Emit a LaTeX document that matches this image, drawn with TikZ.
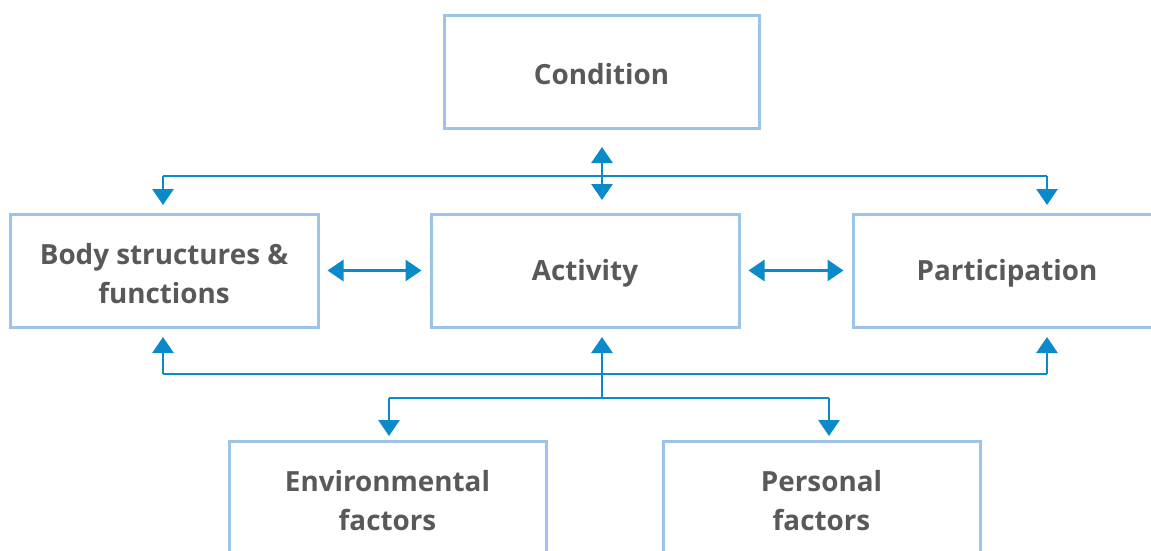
\documentclass[tikz,border=0pt]{standalone}
\usepackage{fontspec}
\setmainfont{Open Sans}
\usetikzlibrary{arrows.meta}
\definecolor{boxblue}{RGB}{157,195,230}
\definecolor{arrblue}{RGB}{10,138,200}
\definecolor{txtgray}{RGB}{88,89,91}
\begin{document}
\begin{tikzpicture}[x=1pt,y=1pt,
  box/.style={draw=boxblue,line width=3pt,minimum width=308pt,minimum height=113pt,inner sep=0pt},
  boxtext/.style={align=center,inner sep=0pt,yshift=-3pt,
    font=\fontsize{27.8}{39}\selectfont\bfseries,text=txtgray},
  link/.style={draw=arrblue,line width=2.9pt},
  onetip/.style={link,-{Triangle[width=21pt,length=16pt]}},
  twotip/.style={link,{Triangle[width=21pt,length=16pt]}-{Triangle[width=21pt,length=16pt]}}]
\useasboundingbox (0,0) rectangle (1151,-550);
\clip (0,0) rectangle (1151,-550);
\node[box,minimum width=315pt,label={[boxtext]center:Condition}] (cond) at (601.5,-71.5) {};
\node[box,label={[boxtext]center:Body structures \&\\functions}] (body) at (164,-270.5) {};
\node[box,label={[boxtext]center:Activity}] (act) at (585,-270.5) {};
\node[box,label={[boxtext]center:Participation}] (part) at (1007,-270.5) {};
\node[box,minimum width=317pt,label={[boxtext]center:Environmental\\factors}] (env) at (387.5,-497.5) {};
\node[box,minimum width=317pt,label={[boxtext]center:Personal\\factors}] (pers) at (821.5,-497.5) {};
% top distribution
\coordinate (tl) at (163,-176);
\coordinate (tr) at (1047,-176);
\coordinate (tc) at (602,-176);
\draw[link] (tl) -- (tr);
\draw[twotip] (602,-147) coordinate (ctop) -- (602,-200) coordinate (cbot);
\draw[onetip] (tl) -- (163,-205) coordinate (bodytop);
\draw[onetip] (tr) -- (1047,-205) coordinate (parttop);
% horizontal links
\draw[twotip] ([xshift=8pt]body.east) -- ([xshift=-8pt]act.west);
\draw[twotip] ([xshift=8pt]act.east) -- ([xshift=-8pt]part.west);
% bottom distribution
\coordinate (bl) at (163,-374);
\coordinate (br) at (1047,-374);
\draw[link] (bl) -- (br);
\draw[onetip] (bl) -- (163,-337);
\draw[onetip] (br) -- (1047,-337);
\coordinate (fc) at (602,-398);
\draw[onetip] (fc) -- (602,-337);
\coordinate (fl) at (389,-398);
\coordinate (fr) at (829,-398);
\draw[link] (fl) -- (fr);
\draw[onetip] (fl) -- (389,-436);
\draw[onetip] (fr) -- (829,-436);
\end{tikzpicture}
\end{document}
